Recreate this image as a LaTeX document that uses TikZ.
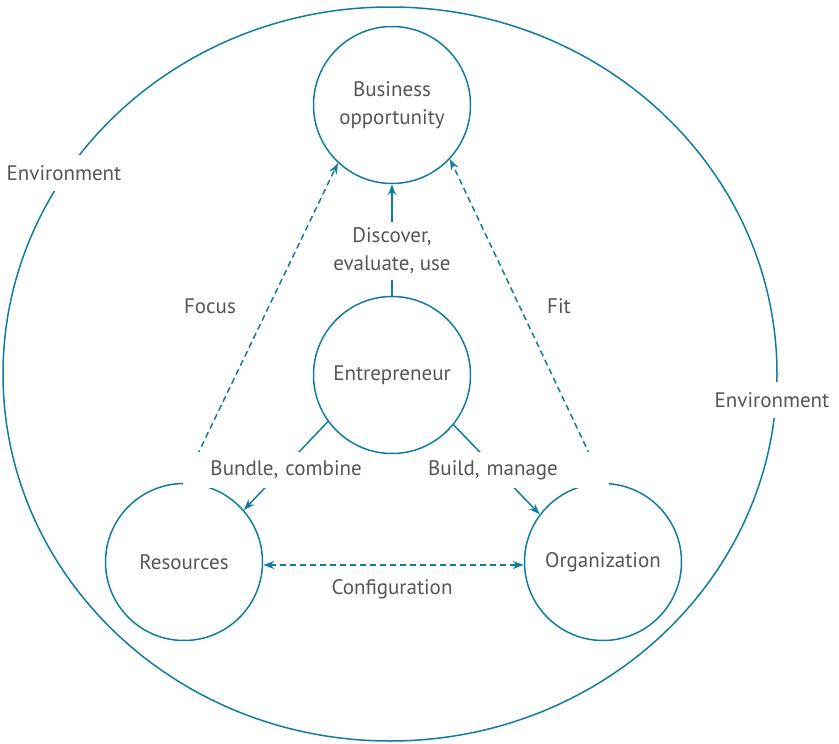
\documentclass[tikz,border=0pt]{standalone}
\usepackage{fontspec}
\setmainfont{PT Sans}
\usetikzlibrary{arrows.meta}
\definecolor{lineblue}{RGB}{16,124,162}
\definecolor{txtgray}{RGB}{85,85,85}
\begin{document}
\begin{tikzpicture}[x=1pt,y=-1pt,
  font=\fontsize{21}{28}\selectfont, text=txtgray,
  ln/.style={draw=lineblue, line width=1.5pt},
  arr/.style={ln, -{Stealth[length=11pt,width=8pt]}},
  darr/.style={arr, dash pattern=on 6pt off 4pt},
  biarr/.style={ln, {Stealth[length=11pt,width=8pt]}-{Stealth[length=11pt,width=8pt]}, dash pattern=on 6pt off 4pt},
  circ/.style={circle, ln, minimum size=157pt, inner sep=0pt, align=center},
  lbl/.style={fill=white, inner sep=5pt, align=center},
  plain/.style={inner sep=2pt, align=center}]
\useasboundingbox (0,0) rectangle (839,744);
\draw[ln] (390,374) ellipse [x radius=387, y radius=367];
\node[circ] (bo) at (392,105) {\raisebox{-3pt}{\begin{tabular}{@{}c@{}}Business\\opportunity\end{tabular}}};
\node[circ] (ent) at (392,375) {Entrepreneur};
\node[circ] (res) at (184,562) {Resources};
\node[circ] (org) at (603,562) {\raisebox{-2pt}{Organization}};
% connectors
\draw[arr] (ent.north) -- (bo.south);
\draw[darr] (res.north) -- (bo.227);
\draw[darr] (org.north) -- (bo.317);
\draw[arr] (ent.216) -- (res.41);
\draw[arr] (ent.321) -- (org.143);
\draw[biarr] ([yshift=-3pt]res.east) -- ([yshift=-3pt]org.west);
% labels
\node[lbl, minimum height=58pt] (disc) at (392,251) {Discover,\\evaluate, use};
\node[plain] (focus) at (210,306) {Focus};
\node[plain] (fit) at (559,306) {Fit};
\node[lbl, anchor=east, text width=174pt, align=right, inner xsep=5pt, minimum height=36pt] (bund) at (367,470) {Bundle, combine};
\node[lbl, anchor=west, text width=172pt, align=left, inner xsep=9pt, minimum height=36pt] (build) at (419,470) {Build, manage};
\node[plain] (config) at (392,589) {Configuration};
\node[lbl, minimum height=36pt] (envl) at (64,173) {Environment};
\node[lbl, minimum height=36pt] (envr) at (772,400) {Environment};
\end{tikzpicture}
\end{document}
